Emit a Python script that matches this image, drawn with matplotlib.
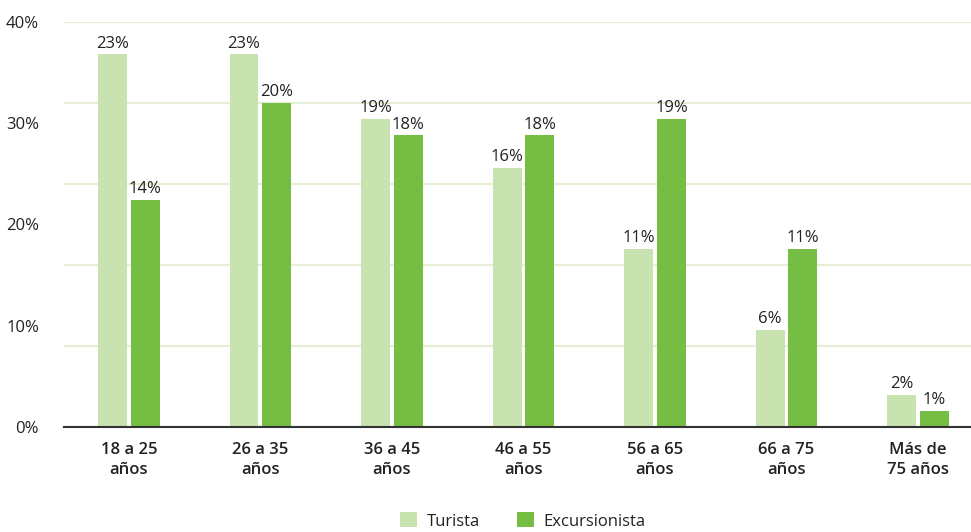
import matplotlib
matplotlib.use("Agg")
import matplotlib.pyplot as plt
from matplotlib.ticker import FixedLocator, MultipleLocator
import numpy as np

categories = ["18 a 25\naños", "26 a 35\naños", "36 a 45\naños", "46 a 55\naños",
              "56 a 65\naños", "66 a 75\naños", "Más de\n75 años"]
turista = [23, 23, 19, 16, 11, 6, 2]
excursionista = [14, 20, 18, 18, 19, 11, 1]
# Axis tick labels as printed in the original (the printed axis runs 0-40% over a 0-25% data range)
axis_tick_labels = [0, 10, 20, 30, 40]
data_max = 25

plt.rcParams['font.family'] = ['Open Sans', 'DejaVu Sans']

fig = plt.figure(figsize=(9.71, 5.32), dpi=100)
ax = fig.add_axes([64/971, 1-427/532, 1-64/971, (427-22)/532])

x = np.arange(len(categories))
w = 0.22
off = 0.125
c1 = "#c8e2b0"
c2 = "#76bd43"
txt = "#222222"
fs = 12

b1 = ax.bar(x - off, turista, w, color=c1, label="Turista", zorder=3)
b2 = ax.bar(x + off, excursionista, w, color=c2, label="Excursionista", zorder=3)

for bars, vals in ((b1, turista), (b2, excursionista)):
    for b, v in zip(bars, vals):
        ax.annotate(f"{v}%", (b.get_x() + b.get_width()/2, b.get_height()),
                    xytext=(0, 2), textcoords="offset points",
                    ha="center", va="bottom", fontsize=fs, color=txt)

ax.set_xlim(-0.494, 6.403)
ax.set_ylim(0, data_max)

scale = data_max / max(axis_tick_labels)
ax.yaxis.remove_overlapping_locs = False
ax.yaxis.set_major_locator(FixedLocator([t * scale for t in axis_tick_labels]))
ax.set_yticklabels([f"{t}%" for t in axis_tick_labels])
ax.yaxis.set_minor_locator(MultipleLocator(5))
ax.grid(which="minor", axis="y", color="#e4efd6", linewidth=1.6, zorder=0)
ax.grid(which="major", axis="y", visible=False)
ax.tick_params(axis="y", which="both", length=0, pad=18, labelsize=fs, labelcolor=txt)

ax.set_xticks(x)
ax.set_xticklabels(categories, fontsize=fs, fontweight="semibold", color=txt, linespacing=1.3)
ax.tick_params(axis="x", length=0, pad=11)

for s in ("top", "right", "left"):
    ax.spines[s].set_visible(False)
ax.spines["bottom"].set_color("#333333")
ax.spines["bottom"].set_linewidth(1.5)
ax.spines["bottom"].set_zorder(4)

leg = fig.legend(handles=[b1, b2], loc="center", bbox_to_anchor=(523/971, 1-521/532),
                 ncol=2, frameon=False, fontsize=fs, handlelength=1.0, handleheight=1.0,
                 columnspacing=2.2, handletextpad=0.6)
for t in leg.get_texts():
    t.set_color(txt)

fig.savefig("out.png", dpi=100)
